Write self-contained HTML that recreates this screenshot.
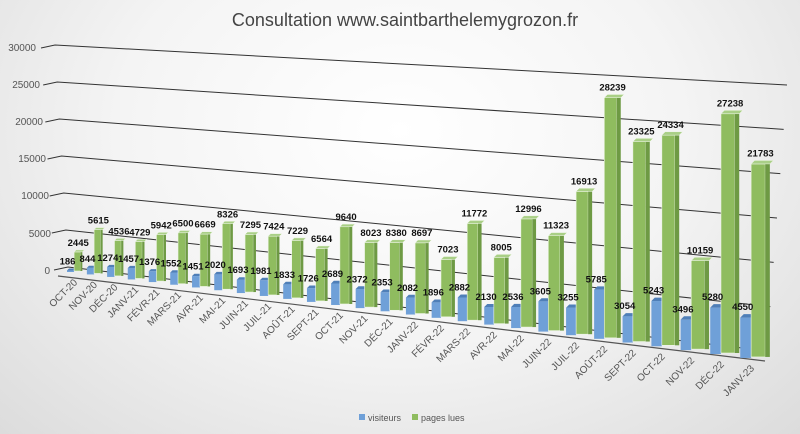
<!DOCTYPE html>
<html><head><meta charset="utf-8"><style>
html,body{margin:0;padding:0;width:800px;height:434px;overflow:hidden;}
body{background:radial-gradient(ellipse at 50% 30%,#ffffff 0%,#f4f4f4 50%,#dcdcdc 100%);font-family:"Liberation Sans",sans-serif;}
</style></head><body>
<svg id="c" width="800" height="434" xmlns="http://www.w3.org/2000/svg" style="position:absolute;left:0;top:0">
<text x="405" y="26" text-anchor="middle" font-size="18" fill="#444" font-family="Liberation Sans, sans-serif">Consultation www.saintbarthelemygrozon.fr</text>
<g font-size="10" fill="#555" font-family="Liberation Sans, sans-serif" text-anchor="end">
<text x="36" y="51">30000</text><text x="40" y="88">25000</text><text x="43" y="125">20000</text>
<text x="46" y="162">15000</text><text x="49" y="199">10000</text><text x="51" y="237">5000</text><text x="50" y="274">0</text>
</g>
<rect x="359" y="414" width="6" height="6" fill="#6fa0d8"/><text x="368" y="421" font-size="9" fill="#555">visiteurs</text>
<rect x="412" y="414" width="6" height="6" fill="#8fbc5f"/><text x="421" y="421" font-size="9" fill="#555">pages lues</text>
</svg>
<script>
var V=[186,844,1274,1457,1376,1552,1451,2020,1693,1981,1833,1726,2689,2372,2353,2082,1896,2882,2130,2536,3605,3255,5785,3054,5243,3496,5280,4550];
var P=[2445,5615,4536,4729,5942,6500,6669,8326,7295,7424,7229,6564,9640,8023,8380,8697,7023,11772,8005,12996,11323,16913,28239,23325,24334,10159,27238,21783];
var L=["OCT-20","NOV-20","DÉC-20","JANV-21","FÉVR-21","MARS-21","AVR-21","MAI-21","JUIN-21","JUIL-21","AOÛT-21","SEPT-21","OCT-21","NOV-21","DÉC-21","JANV-22","FÉVR-22","MARS-22","AVR-22","MAI-22","JUIN-22","JUIL-22","AOÛT-22","SEPT-22","OCT-22","NOV-22","DÉC-22","JANV-23"];
var s='',yg;
for(var k=0;k<=6;k++){var v=k/6;
 var xl=68-13*v,yl=267-222*v,xr=767+20*v,yr=351-266*v;
 s+='<polyline points="'+(xl-14)+','+(yl+3)+' '+xl+','+yl+' '+xr+','+yr+'" fill="none" stroke="#333" stroke-width="1"/>';}
s+='<line x1="58" y1="276" x2="765" y2="361" stroke="#555" stroke-width="1.2"/>';
for(var i=0;i<28;i++){
 var bl=67+19.67*i+0.195*i*i, st=19.67+0.39*i, yb=272+2.4*i+0.029*i*i, t=i/27, sc=(7.8+1.06*t*t)/1000;
 var wb=st*0.36, wg=st*(0.42+0.2*t), d=2+1.5*t;
 var hb=V[i]*sc, hg=P[i]*sc, xg=bl+wb;
 s+='<rect x="'+bl+'" y="'+(yb-hb)+'" width="'+wb+'" height="'+hb+'" fill="#6fa0d8"/>';
 s+='<polygon points="'+bl+','+(yb-hb)+' '+(bl+d)+','+(yb-hb-d)+' '+(bl+wb+d)+','+(yb-hb-d)+' '+(bl+wb)+','+(yb-hb)+'" fill="#4f7fb8"/>';
 var ws=wg*0.25; yg=yb-1-hg;
 s+='<rect x="'+xg+'" y="'+yg+'" width="'+(wg-ws)+'" height="'+hg+'" fill="#8fbc5f" stroke="#eef5e6" stroke-width="0.6"/>';
 s+='<rect x="'+(xg+wg-ws)+'" y="'+yg+'" width="'+ws+'" height="'+hg+'" fill="#6e9a44"/>';
 s+='<polygon points="'+xg+','+yg+' '+(xg+d)+','+(yg-d)+' '+(xg+wg+d)+','+(yg-d)+' '+(xg+wg)+','+yg+'" fill="#a9cf86" stroke="#eef5e6" stroke-width="0.5"/>';
 s+='<text x="'+(bl+wb/2-3)+'" y="'+(yb-hb-d-4)+'" text-anchor="middle" font-size="9.5" font-weight="bold" fill="#111">'+V[i]+'</text>';
 s+='<text x="'+(xg+wg/2)+'" y="'+(yg-d-4)+'" text-anchor="middle" font-size="9.5" font-weight="bold" fill="#111">'+P[i]+'</text>';
 var lx=bl+st*0.35+4, ly=yb+11;
 s+='<text x="'+lx+'" y="'+ly+'" text-anchor="end" font-size="10" fill="#555" transform="rotate(-45 '+lx+' '+ly+')">'+L[i]+'</text>';
}
document.getElementById('c').insertAdjacentHTML('beforeend',s);
</script>
</body></html>
